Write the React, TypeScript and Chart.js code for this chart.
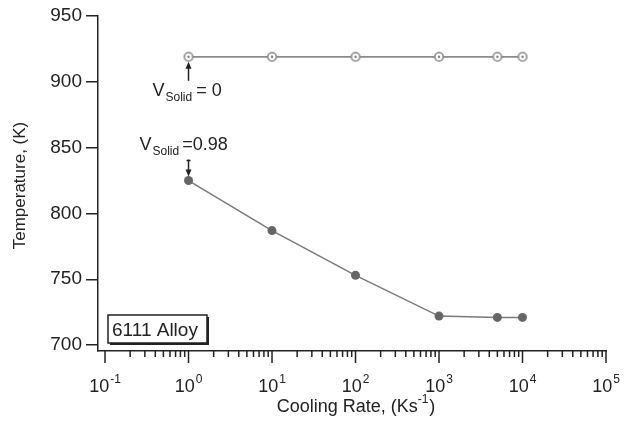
import React, { useEffect, useRef } from "react";
import { Chart, registerables } from "chart.js";

Chart.register(...registerables);

const coolingRates = [1, 10, 100, 1000, 5000, 10000];
const tempVSolid0 = [919, 919, 919, 919, 919, 919];
const tempVSolid098 = [825, 787, 753, 722, 721, 721];
const yTicks = [700, 750, 800, 850, 900, 950];
const xDecadeExponents = [-1, 0, 1, 2, 3, 4, 5];
const xTitleMain = "Cooling Rate, (Ks";
const xTitleSup = "-1";
const xTitleEnd = ")";
const yTitle = "Temperature, (K)";
const alloyLabel = "6111 Alloy";
const annotTop = { base: "V", sub: "Solid", rest: "= 0" };
const annotBottom = { base: "V", sub: "Solid", rest: "=0.98" };

const FONT = "'Liberation Sans', Arial, Helvetica, sans-serif";
const INK = "#222";

function ringMarker(): HTMLCanvasElement {
  const c = document.createElement("canvas");
  c.width = 12;
  c.height = 12;
  const g = c.getContext("2d")!;
  g.fillStyle = "#fff";
  g.beginPath();
  g.arc(6, 6, 4.3, 0, Math.PI * 2);
  g.fill();
  g.strokeStyle = "#8a8a8a";
  g.lineWidth = 1.6;
  g.beginPath();
  g.arc(6, 6, 4.2, 0, Math.PI * 2);
  g.stroke();
  g.fillStyle = "#777";
  g.beginPath();
  g.arc(6, 6, 1.2, 0, Math.PI * 2);
  g.fill();
  return c;
}

function line(ctx: CanvasRenderingContext2D, x1: number, y1: number, x2: number, y2: number) {
  ctx.beginPath();
  ctx.moveTo(x1, y1);
  ctx.lineTo(x2, y2);
  ctx.stroke();
}

const overlay = {
  id: "overlay",
  afterDraw(chart: any) {
    const ctx: CanvasRenderingContext2D = chart.ctx;
    const xs = chart.scales.x;
    const ys = chart.scales.y;
    const area = chart.chartArea;
    ctx.save();
    ctx.strokeStyle = INK;
    ctx.fillStyle = INK;
    ctx.lineWidth = 1.5;

    // x ticks
    for (const e of xDecadeExponents) {
      const dec = Math.pow(10, e);
      const px = xs.getPixelForValue(dec);
      line(ctx, px, area.bottom, px, area.bottom + 12);
      if (e < xDecadeExponents[xDecadeExponents.length - 1]) {
        for (let m = 2; m <= 9; m++) {
          const mp = xs.getPixelForValue(m * dec);
          line(ctx, mp, area.bottom, mp, area.bottom + 6);
        }
      }
    }
    // x labels
    ctx.textBaseline = "alphabetic";
    ctx.textAlign = "left";
    for (const e of xDecadeExponents) {
      const px = xs.getPixelForValue(Math.pow(10, e));
      ctx.font = `18px ${FONT}`;
      const wb = ctx.measureText("10").width;
      ctx.font = `12px ${FONT}`;
      const sup = String(e);
      const ws = ctx.measureText(sup).width;
      const total = wb + ws + 1;
      const sx = px - total / 2;
      ctx.font = `18px ${FONT}`;
      ctx.fillText("10", sx, area.bottom + 41);
      ctx.font = `12px ${FONT}`;
      ctx.fillText(sup, sx + wb + 1, area.bottom + 32);
    }

    // x title
    ctx.font = `18px ${FONT}`;
    const w1 = ctx.measureText(xTitleMain).width;
    const w3 = ctx.measureText(xTitleEnd).width;
    ctx.font = `12px ${FONT}`;
    const w2 = ctx.measureText(xTitleSup).width;
    const tw = w1 + w2 + w3 + 1;
    const tx = (area.left + area.right) / 2 + 4 - tw / 2;
    ctx.font = `18px ${FONT}`;
    ctx.fillText(xTitleMain, tx, area.bottom + 61);
    ctx.fillText(xTitleEnd, tx + w1 + w2 + 1, area.bottom + 61);
    ctx.font = `12px ${FONT}`;
    ctx.fillText(xTitleSup, tx + w1, area.bottom + 52);

    // y title
    ctx.save();
    ctx.translate(20, (area.top + area.bottom) / 2 + 2);
    ctx.rotate(-Math.PI / 2);
    ctx.textAlign = "center";
    ctx.textBaseline = "middle";
    ctx.font = `17px ${FONT}`;
    ctx.fillText(yTitle, 0, 0);
    ctx.restore();

    // annotations
    const px1 = xs.getPixelForValue(coolingRates[0]);
    const pyTop = ys.getPixelForValue(tempVSolid0[0]);
    const pyBot = ys.getPixelForValue(tempVSolid098[0]);
    ctx.lineWidth = 1.5;
    // top arrow (points up)
    line(ctx, px1, pyTop + 24, px1, pyTop + 10);
    ctx.beginPath();
    ctx.moveTo(px1, pyTop + 5);
    ctx.lineTo(px1 - 3, pyTop + 12);
    ctx.lineTo(px1 + 3, pyTop + 12);
    ctx.closePath();
    ctx.fill();
    // bottom arrow (points down)
    line(ctx, px1, pyBot - 21, px1, pyBot - 10);
    line(ctx, px1 - 2, pyBot - 20, px1 + 2, pyBot - 20);
    ctx.beginPath();
    ctx.moveTo(px1, pyBot - 4);
    ctx.lineTo(px1 - 3, pyBot - 11);
    ctx.lineTo(px1 + 3, pyBot - 11);
    ctx.closePath();
    ctx.fill();

    const drawAnnot = (a: { base: string; sub: string; rest: string }, x: number, y: number, gap: number) => {
      ctx.textAlign = "left";
      ctx.textBaseline = "alphabetic";
      ctx.font = `18px ${FONT}`;
      ctx.fillText(a.base, x, y);
      const wb = ctx.measureText(a.base).width;
      ctx.font = `12px ${FONT}`;
      ctx.fillText(a.sub, x + wb + 1, y + 5);
      const wsub = ctx.measureText(a.sub).width;
      ctx.font = `18px ${FONT}`;
      ctx.fillText(a.rest, x + wb + 1 + wsub + gap, y);
    };
    drawAnnot(annotTop, px1 - 36, pyTop + 39, 4);
    drawAnnot(annotBottom, px1 - 49, pyBot - 31, 3);

    // alloy box
    const bx = area.left + 10;
    const by = area.bottom - 36;
    const bw = 99;
    const bh = 28;
    ctx.fillStyle = INK;
    ctx.fillRect(bx + 2, by + 2, bw, bh);
    ctx.fillStyle = "#fff";
    ctx.fillRect(bx, by, bw, bh);
    ctx.strokeStyle = INK;
    ctx.lineWidth = 1.5;
    ctx.strokeRect(bx, by, bw, bh);
    ctx.fillStyle = INK;
    ctx.font = `19px ${FONT}`;
    ctx.fillText(alloyLabel, bx + 4, by + 21);

    ctx.restore();
  },
};

export default function App() {
  const ref = useRef<HTMLCanvasElement | null>(null);
  useEffect(() => {
    if (!ref.current) return;
    const chart = new Chart(ref.current, {
      type: "line",
      data: {
        datasets: [
          {
            label: "VSolid = 0",
            data: coolingRates.map((x, i) => ({ x, y: tempVSolid0[i] })),
            borderColor: "#8a8a8a",
            borderWidth: 1.8,
            pointStyle: ringMarker() as any,
            pointRadius: 5,
            tension: 0,
          },
          {
            label: "VSolid = 0.98",
            data: coolingRates.map((x, i) => ({ x, y: tempVSolid098[i] })),
            borderColor: "#7a7a7a",
            borderWidth: 1.5,
            pointStyle: "circle",
            pointRadius: 4.5,
            pointBackgroundColor: "#666",
            pointBorderColor: "#666",
            pointBorderWidth: 0,
            tension: 0,
          },
        ],
      },
      options: {
        animation: false,
        responsive: true,
        maintainAspectRatio: false,
        layout: { padding: { left: 0, top: 16, right: 20, bottom: 0 } },
        plugins: {
          legend: { display: false },
          tooltip: { enabled: false },
        },
        events: [],
        scales: {
          x: {
            type: "logarithmic",
            min: 0.0824,
            max: 100000,
            grid: { display: false },
            ticks: { display: false },
            border: { display: true, color: INK, width: 1.5 },
            afterFit: (s: any) => {
              s.height = 70;
            },
          },
          y: {
            type: "linear",
            min: 695.5,
            max: 950,
            afterBuildTicks: (s: any) => {
              s.ticks = yTicks.map((v) => ({ value: v }));
            },
            grid: {
              drawOnChartArea: false,
              drawTicks: true,
              tickLength: 12,
              color: INK,
              lineWidth: 1.5,
            },
            border: { display: true, color: INK, width: 1.5 },
            ticks: {
              color: INK,
              padding: 4,
              font: { family: FONT, size: 19 },
            },
            afterFit: (s: any) => {
              s.width = 98;
            },
          },
        },
      },
      plugins: [overlay],
    } as any);
    return () => chart.destroy();
  }, []);
  return (
    <div style={{ position: "fixed", left: 0, top: 0, width: 626, height: 421, background: "#fff" }}>
      <canvas ref={ref} />
    </div>
  );
}
